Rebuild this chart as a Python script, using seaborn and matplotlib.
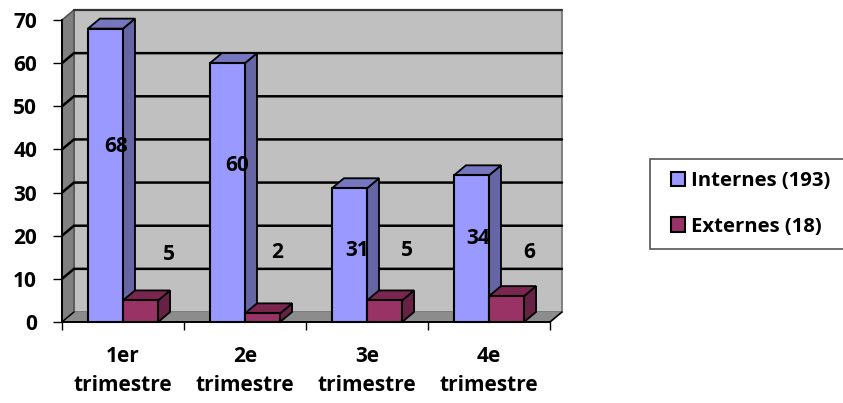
import matplotlib
matplotlib.use('Agg')
import matplotlib.pyplot as plt
import pandas as pd
import seaborn as sns
from matplotlib.patches import Polygon, Rectangle

trimestres = ['1er\ntrimestre', '2e\ntrimestre', '3e\ntrimestre', '4e\ntrimestre']
internes = [68, 60, 31, 34]
externes = [5, 2, 5, 6]
series_names = ['Internes (193)', 'Externes (18)']
y_ticks = [0, 10, 20, 30, 40, 50, 60, 70]

# where the labels sit relative to the foot of each bar, in pixels
internes_label_offset = [(11, 176), (10, 157), (8, 71), (7, 84)]
externes_label_offset = [(28, 67), (15, 70), (22, 72), (23, 70)]

sns.set_theme(style='white')
plt.rcParams['font.family'] = ['Open Sans', 'DejaVu Sans']
plt.rcParams['font.weight'] = 'bold'

df = pd.DataFrame({
    'trimestre': trimestres * 2,
    'serie': [series_names[0]] * 4 + [series_names[1]] * 4,
    'valeur': internes + externes,
})

W, H = 843, 403
fig = plt.figure(figsize=(W / 100, H / 100), dpi=100)
ax = fig.add_axes([62 / W, (H - 322) / H, 488 / W, 302 / H])

sns.barplot(data=df, x='trimestre', y='valeur', hue='serie', ax=ax,
            palette=['#9999FF', '#993366'], saturation=1, width=0.575, gap=0,
            edgecolor='black', linewidth=1.5, zorder=3)
ax.set_xlim(-0.5, 3.5)
ax.set_ylim(0, 70)

# depth of the fake 3D box, 12 px across and 10 px up
dx = 12 / 122
dy = 10 / (302 / 70)
x0, x1 = ax.get_xlim()
y_top = ax.get_ylim()[1]

# walls and floor
ax.add_patch(Polygon([(x0 + dx, dy), (x1 + dx, dy), (x1 + dx, y_top + dy), (x0 + dx, y_top + dy)],
                     fc='#C0C0C0', ec='#707070', lw=1.2, zorder=0.5, clip_on=False))
ax.add_patch(Polygon([(x0, 0), (x0 + dx, dy), (x0 + dx, y_top + dy), (x0, y_top)],
                     fc='#808080', ec='#555555', lw=1.2, zorder=0.6, clip_on=False))
ax.add_patch(Polygon([(x0, 0), (x1, 0), (x1 + dx, dy), (x0 + dx, dy)],
                     fc='#8C8C8C', ec='none', zorder=0.6, clip_on=False))

for tick in y_ticks[1:-1]:
    ax.plot([x0, x0 + dx, x1 + dx], [tick, tick + dy, tick + dy], color='black', lw=1.8,
            zorder=1, clip_on=False, solid_joinstyle='miter')
ax.plot([x0 + dx, x1 + dx], [y_top + dy, y_top + dy], color='#333333', lw=1.6, zorder=1, clip_on=False)
ax.plot([x0, x0 + dx], [0, dy], color='black', lw=1, zorder=1, clip_on=False)
ax.plot([x1, x1 + dx], [0, dy], color='black', lw=1.2, zorder=1, clip_on=False)

shades = {0: ('#6666A6', '#7777C0'), 1: ('#662244', '#7A2650')}
bars = []
for s, container in enumerate(ax.containers):
    for bar in container.patches:
        bars.append((bar, s))
bars.sort(key=lambda item: item[0].get_x())

# side and top faces, painted left to right so later bars cover earlier ones
for i, (bar, s) in enumerate(bars):
    left = bar.get_x()
    right = left + bar.get_width()
    h = bar.get_height()
    z = 3 + i * 0.1
    side, top = shades[s]
    ax.add_patch(Polygon([(right, 0), (right + dx, dy), (right + dx, h + dy), (right, h)],
                         fc=side, ec='black', lw=1.3, zorder=z, clip_on=False))
    ax.add_patch(Polygon([(left, h), (right, h), (right + dx, h + dy), (left + dx, h + dy)],
                         fc=top, ec='black', lw=1.3, zorder=z, clip_on=False))
    bar.set_zorder(z + 0.05)
    bar.set_clip_on(False)

# data labels
for s, (container, values, offsets) in enumerate(zip(ax.containers, [internes, externes],
                                                     [internes_label_offset, externes_label_offset])):
    for bar, value, (ox, oy) in zip(container.patches, values, offsets):
        ax.annotate(str(value), xy=(bar.get_x() + bar.get_width() / 2, 0),
                    xytext=(ox * 0.72, oy * 0.72), textcoords='offset points',
                    ha='center', va='center', fontsize=15, fontweight='bold',
                    color='black', zorder=10, annotation_clip=False)

# axes, ticks
for name, spine in ax.spines.items():
    spine.set_visible(name in ('left', 'bottom'))
    spine.set_color('black')
    spine.set_linewidth(1.4)
    spine.set_zorder(2.5)
ax.set_xlabel('')
ax.set_ylabel('')
ax.set_yticks(y_ticks)
ax.set_yticklabels([str(t) for t in y_ticks], fontsize=15, fontweight='bold', color='black')
ax.tick_params(axis='y', which='major', left=True, length=6.5, width=1, pad=11.5, color='black')

# boundaries get the tick marks, category centres get the labels
ax.set_xticks([-0.5, 0.5, 1.5, 2.5, 3.5])
ax.set_xticklabels([])
ax.set_xticks([0, 1, 2, 3], minor=True)
ax.set_xticklabels(trimestres, minor=True, fontsize=15, fontweight='bold', color='black',
                   linespacing=1.5)
ax.tick_params(axis='x', which='major', bottom=True, length=5.5, width=1, color='black')
ax.tick_params(axis='x', which='minor', bottom=False, length=0, pad=17.5)

# legend: frame drawn separately, the reference box runs off the right edge
fig.add_artist(Rectangle((650 / W, (H - 249) / H), 200 / W, 90 / H, transform=fig.transFigure,
                         fc='white', ec='#555555', lw=1.2, zorder=1))
handles, labels = ax.get_legend_handles_labels()
ax.get_legend().remove()
leg = fig.legend(handles, labels, loc='center left', bbox_to_anchor=(671 / W, (H - 204) / H),
                 fontsize=14.6, frameon=False, handlelength=0.7, handleheight=0.7,
                 handletextpad=0.3, labelspacing=1.25, borderpad=0, borderaxespad=0,
                 labelcolor='black')
leg.set_zorder(2)
for text in leg.get_texts():
    text.set_fontweight('bold')

fig.savefig('out.png', dpi=100)
